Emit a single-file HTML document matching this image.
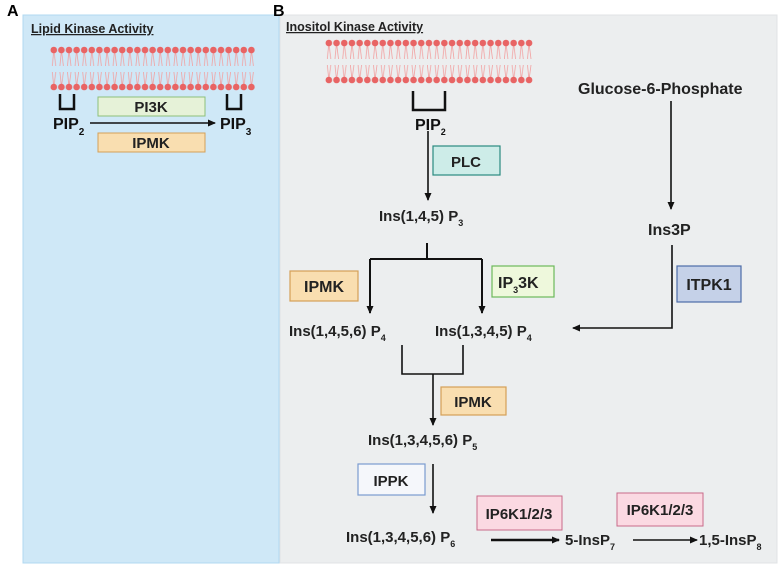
<!DOCTYPE html><html><head><style>body{margin:0;background:#fff}svg{display:block;font-family:"Liberation Sans",Arial,sans-serif;font-weight:bold}</style></head><body>
<svg width="782" height="569" viewBox="0 0 782 569" xmlns="http://www.w3.org/2000/svg">
<defs>
<marker id="ah" markerWidth="8" markerHeight="8" refX="7" refY="4" orient="auto" markerUnits="userSpaceOnUse"><path d="M0,0.5 L8,4 L0,7.5z" fill="#111"/></marker>
<pattern id="memA" x="50" y="0" width="7.6" height="100" patternUnits="userSpaceOnUse">
<path d="M3.8,50 L2.3,66 M3.8,50 L5.8,66 M2.3,72 L3.8,87 M5.8,72 L3.8,87" stroke="#f2a0a0" stroke-width="0.8" fill="none"/>
<circle cx="3.8" cy="50" r="3.3" fill="#e86464"/><circle cx="3.8" cy="87" r="3.3" fill="#e86464"/></pattern>
<pattern id="memB" x="325" y="0" width="7.7" height="100" patternUnits="userSpaceOnUse">
<path d="M3.85,43 L2.3,59 M3.85,43 L5.8,59 M2.3,65 L3.85,80 M5.8,65 L3.85,80" stroke="#f2a0a0" stroke-width="0.8" fill="none"/>
<circle cx="3.85" cy="43" r="3.3" fill="#e86464"/><circle cx="3.85" cy="80" r="3.3" fill="#e86464"/></pattern>
</defs>
<rect x="23" y="15" width="256" height="548" fill="#cfe8f7" stroke="#b0d8f2"/>
<rect x="280" y="15" width="497" height="548" fill="#eceeef" stroke="#e0e3e5"/>
<text x="7" y="16" font-size="16">A</text><text x="273" y="16" font-size="16">B</text>
<text x="31" y="33" font-size="12.5" text-decoration="underline" fill="#222">Lipid Kinase Activity</text>
<text x="286" y="31" font-size="12.5" text-decoration="underline" fill="#222">Inositol Kinase Activity</text>
<rect x="50" y="45" width="205.2" height="46" fill="url(#memA)"/>
<rect x="325" y="38" width="207.9" height="46" fill="url(#memB)"/>
<g fill="none" stroke="#111" stroke-width="2.5">
<path d="M60,94 V109 H74 V94"/><path d="M227,94 V109 H241 V94"/><path d="M413,91 V110 H445 V91"/>
</g>
<rect x="98" y="97" width="107" height="19" fill="#e6f2d8" stroke="#8dc07a"/><text x="151" y="112" font-size="15" text-anchor="middle" fill="#222">PI3K</text>
<rect x="98" y="133" width="107" height="19" fill="#f9deb0" stroke="#d4a058"/><text x="151" y="148" font-size="15" text-anchor="middle" fill="#222">IPMK</text>
<text x="53" y="129" font-size="16" fill="#111">PIP<tspan font-size="10" dy="6">2</tspan></text>
<text x="220" y="129" font-size="16" fill="#111">PIP<tspan font-size="10" dy="6">3</tspan></text>
<g stroke="#111" stroke-width="1.6" fill="none">
<line x1="90" y1="123" x2="215" y2="123" marker-end="url(#ah)"/>
<line x1="428" y1="131" x2="428" y2="200" marker-end="url(#ah)"/>
<path d="M427,243 V259 M370,259 H482 M370,259 V313 M482,259 V313" stroke-width="2"/>
<line x1="370" y1="300" x2="370" y2="313" marker-end="url(#ah)"/><line x1="482" y1="300" x2="482" y2="313" marker-end="url(#ah)"/>
<line x1="671" y1="101" x2="671" y2="209" marker-end="url(#ah)"/>
<path d="M672,245 V328 H573" marker-end="url(#ah)"/>
<path d="M402,345 V374 H463 V345"/>
<line x1="433" y1="374" x2="433" y2="425" marker-end="url(#ah)"/>
<line x1="433" y1="464" x2="433" y2="513" marker-end="url(#ah)"/>
<line x1="491" y1="540" x2="559" y2="540" marker-end="url(#ah)" stroke-width="2.5"/>
<line x1="633" y1="540" x2="697" y2="540" marker-end="url(#ah)"/>
</g>
<text x="415" y="130" font-size="16" fill="#111">PIP<tspan font-size="9" dy="5">2</tspan></text>
<rect x="433" y="146" width="67" height="29" fill="#cdece8" stroke="#2a8a80" stroke-width="1.2"/><text x="466" y="167" font-size="15" text-anchor="middle" fill="#222">PLC</text>
<g font-size="15" fill="#222">
<text x="379" y="221">Ins(1,4,5) P<tspan font-size="9" dy="5">3</tspan></text>
<text x="578" y="94" font-size="16">Glucose-6-Phosphate</text>
<text x="648" y="235" font-size="16">Ins3P</text>
<text x="289" y="336">Ins(1,4,5,6) P<tspan font-size="9" dy="5">4</tspan></text>
<text x="435" y="336">Ins(1,3,4,5) P<tspan font-size="9" dy="5">4</tspan></text>
<text x="368" y="445">Ins(1,3,4,5,6) P<tspan font-size="9" dy="5">5</tspan></text>
<text x="346" y="542">Ins(1,3,4,5,6) P<tspan font-size="9" dy="5">6</tspan></text>
<text x="565" y="545">5-InsP<tspan font-size="9" dy="5">7</tspan></text>
<text x="699" y="545">1,5-InsP<tspan font-size="9" dy="5">8</tspan></text>
</g>
<rect x="290" y="271" width="68" height="30" fill="#f9deb0" stroke="#d4a058" stroke-width="1.2"/><text x="324" y="292" font-size="16" text-anchor="middle" fill="#222">IPMK</text>
<rect x="492" y="266" width="62" height="31" fill="#eef8dc" stroke="#6cb85a" stroke-width="1.2"/><text x="498" y="288" font-size="16" fill="#222">IP<tspan font-size="9" dy="5">3</tspan><tspan dy="-5">3K</tspan></text>
<rect x="677" y="266" width="64" height="36" fill="#c5d1e8" stroke="#4d6ca8" stroke-width="1.2"/><text x="709" y="290" font-size="16" text-anchor="middle" fill="#222">ITPK1</text>
<rect x="441" y="387" width="65" height="28" fill="#f9deb0" stroke="#d4a058" stroke-width="1.2"/><text x="473" y="407" font-size="15" text-anchor="middle" fill="#222">IPMK</text>
<rect x="358" y="464" width="67" height="31" fill="#f5f7fb" stroke="#7a9bd0" stroke-width="1.2"/><text x="391" y="486" font-size="15" text-anchor="middle" fill="#222">IPPK</text>
<rect x="477" y="496" width="85" height="34" fill="#fbd9e2" stroke="#c86a8a" stroke-width="1"/><text x="519" y="519" font-size="15" text-anchor="middle" fill="#222">IP6K1/2/3</text>
<rect x="617" y="493" width="86" height="33" fill="#fbd9e2" stroke="#c86a8a" stroke-width="1"/><text x="660" y="515" font-size="15" text-anchor="middle" fill="#222">IP6K1/2/3</text>
</svg></body></html>
